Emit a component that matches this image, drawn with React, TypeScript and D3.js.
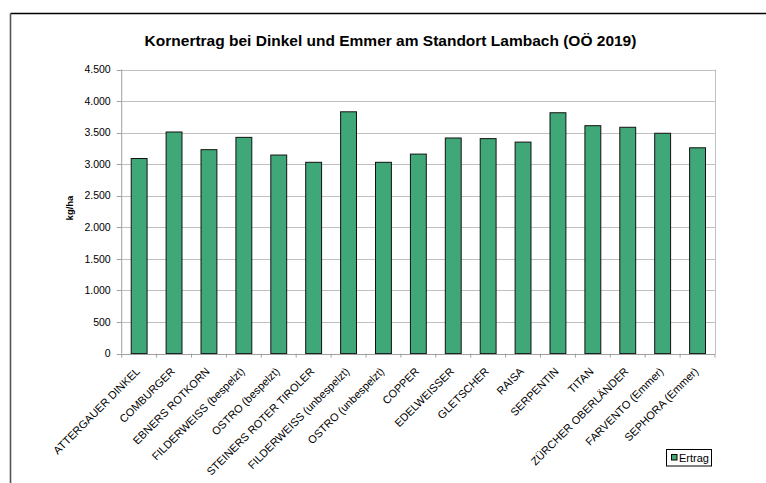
import React, { useEffect, useRef } from "react";
import * as d3 from "d3";

const categories = [
  "ATTERGAUER DINKEL",
  "COMBURGER",
  "EBNERS ROTKORN",
  "FILDERWEISS (bespelzt)",
  "OSTRO (bespelzt)",
  "STEINERS ROTER TIROLER",
  "FILDERWEISS (unbespelzt)",
  "OSTRO (unbespelzt)",
  "COPPER",
  "EDELWEISSER",
  "GLETSCHER",
  "RAISA",
  "SERPENTIN",
  "TITAN",
  "ZÜRCHER OBERLÄNDER",
  "FARVENTO (Emmer)",
  "SEPHORA (Emmer)",
];
const ertrag = [3090, 3510, 3230, 3425, 3145, 3030, 3830, 3030, 3160, 3415, 3405, 3350, 3815, 3610, 3585, 3490, 3260];
const yTicks = [0, 500, 1000, 1500, 2000, 2500, 3000, 3500, 4000, 4500];
const title = "Kornertrag bei Dinkel und Emmer am Standort Lambach (OÖ 2019)";
const yLabel = "kg/ha";
const seriesName = "Ertrag";

const W = 766, H = 483;
const plot = { left: 121.7, right: 715, top: 69.5, bottom: 353.6 };
const FILL = "#40a878";
const FONT = "'Liberation Sans', Arial, sans-serif";

export default function App() {
  const ref = useRef<SVGSVGElement>(null);
  useEffect(() => {
    const svg = d3.select(ref.current);
    svg.selectAll("*").remove();
    svg.append("rect").attr("width", W).attr("height", H).attr("fill", "#fff");

    // outer frame
    svg.append("line").attr("x1", 10.5).attr("x2", W).attr("y1", 13.5).attr("y2", 13.5)
      .attr("stroke", "#000").attr("stroke-width", 1.6);
    svg.append("line").attr("x1", 10.5).attr("x2", 10.5).attr("y1", 13.5).attr("y2", H)
      .attr("stroke", "#555").attr("stroke-width", 1.6);

    const x = d3.scaleBand<string>().domain(categories).range([plot.left, plot.right]).paddingInner(0.545).paddingOuter(0.2725);
    const y = d3.scaleLinear().domain([0, 4500]).range([plot.bottom, plot.top]);

    // gridlines
    svg.append("g").selectAll("line").data(yTicks.filter(t => t > 0)).join("line")
      .attr("x1", plot.left).attr("x2", plot.right)
      .attr("y1", d => Math.round(y(d)) + 0.5).attr("y2", d => Math.round(y(d)) + 0.5)
      .attr("stroke", "#c0c0c0").attr("stroke-width", 1);
    // right border of plot
    svg.append("line").attr("x1", plot.right + 0.5).attr("x2", plot.right + 0.5)
      .attr("y1", y(4500)).attr("y2", y(0)).attr("stroke", "#c0c0c0");

    // bars
    svg.append("g").selectAll("rect").data(categories).join("rect")
      .attr("x", d => x(d)!)
      .attr("width", x.bandwidth())
      .attr("y", (d, i) => y(ertrag[i]))
      .attr("height", (d, i) => y(0) - y(ertrag[i]))
      .attr("fill", FILL).attr("stroke", "#111").attr("stroke-width", 1);

    // y axis
    const ya = svg.append("g").attr("transform", `translate(${plot.left},0)`);
    ya.append("line").attr("x1", 0).attr("x2", 0).attr("y1", y(4500)).attr("y2", y(0)).attr("stroke", "#a0a0a0");
    ya.selectAll("line.t").data(yTicks).join("line").attr("class", "t")
      .attr("x1", -5).attr("x2", 0)
      .attr("y1", d => Math.round(y(d)) + 0.5).attr("y2", d => Math.round(y(d)) + 0.5).attr("stroke", "#a0a0a0");
    const fmt = (v: number) => d3.format(",")(v).replace(/,/g, ".");
    ya.selectAll("text").data(yTicks).join("text")
      .attr("x", -11).attr("y", d => y(d)).attr("dy", "0.35em")
      .attr("text-anchor", "end").attr("font-family", FONT).attr("font-size", 10.5).attr("fill", "#000")
      .text(d => fmt(d));

    // x axis
    const xa = svg.append("g");
    xa.append("line").attr("x1", plot.left).attr("x2", plot.right)
      .attr("y1", Math.round(y(0)) + 0.5).attr("y2", Math.round(y(0)) + 0.5).attr("stroke", "#a0a0a0");
    const step = x.step();
    const bounds = d3.range(categories.length + 1).map(i => plot.left + i * step);
    xa.selectAll("line.t").data(bounds).join("line").attr("class", "t")
      .attr("x1", d => d).attr("x2", d => d)
      .attr("y1", y(0)).attr("y2", y(0) + 4).attr("stroke", "#a0a0a0");
    xa.selectAll("text").data(categories).join("text")
      .attr("transform", d => `translate(${x(d)! + x.bandwidth() / 2 + 1.5},${y(0) + 18.5}) rotate(-45)`)
      .attr("text-anchor", "end")
      .attr("font-family", FONT).attr("font-size", 11).attr("fill", "#000")
      .text(d => d);

    // title
    svg.append("text").attr("x", 390.5).attr("y", 46).attr("text-anchor", "middle")
      .attr("font-family", FONT).attr("font-size", 15.5).attr("font-weight", "bold").text(title);

    // y label
    svg.append("text").attr("transform", `translate(73,208) rotate(-90)`).attr("text-anchor", "middle")
      .attr("font-family", FONT).attr("font-size", 9.5).attr("font-weight", "bold").text(yLabel);

    // legend
    const lg = svg.append("g");
    lg.append("rect").attr("x", 666.5).attr("y", 449.5).attr("width", 45).attr("height", 16.5)
      .attr("fill", "#fff").attr("stroke", "#000");
    lg.append("rect").attr("x", 671.5).attr("y", 454.5).attr("width", 5.5).attr("height", 5.5)
      .attr("fill", FILL).attr("stroke", "#000");
    lg.append("text").attr("x", 679).attr("y", 462).attr("font-family", FONT).attr("font-size", 11)
      .text(seriesName);
  }, []);
  return <svg ref={ref} width={W} height={H} style={{ position: "absolute", left: 0, top: 0, display: "block" }} />;
}
